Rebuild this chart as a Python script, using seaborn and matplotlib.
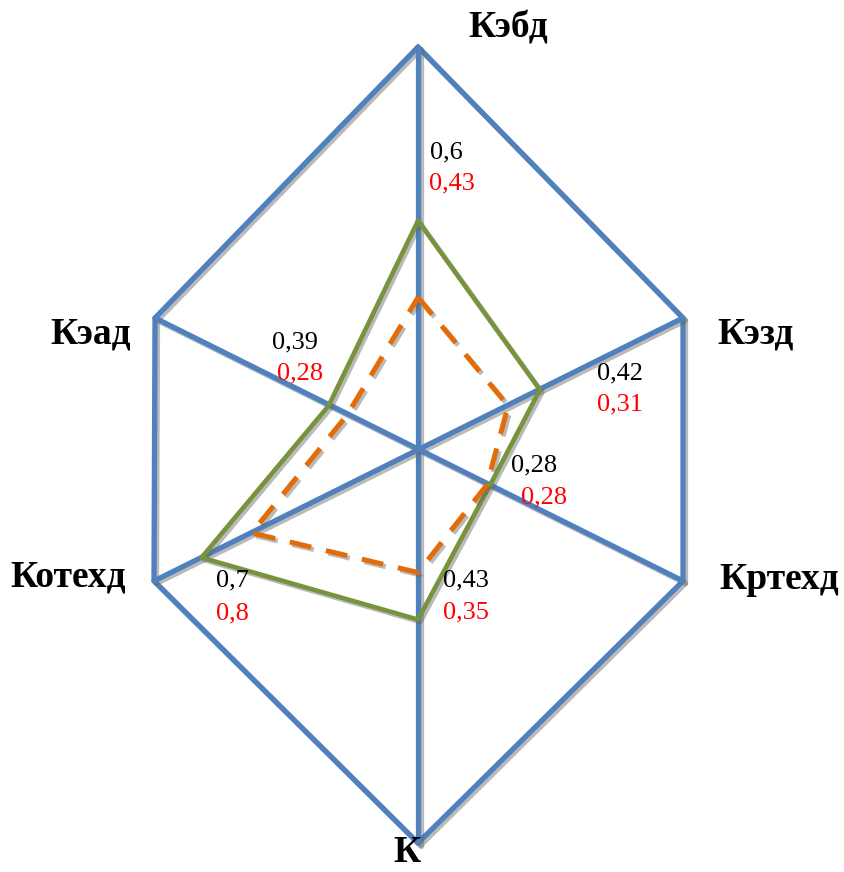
import matplotlib
matplotlib.use("Agg")
import matplotlib.pyplot as plt
import matplotlib.patheffects as pe
import numpy as np
import pandas as pd
import seaborn as sns

# axes of the radar, clockwise from the top
categories = ["Кэбд", "Кэзд", "Кртехд", "К", "Котехд", "Кэад"]

# where the two polygons sit on each axis (share of the outer hexagon)
green_values = [0.57, 0.46, 0.27, 0.43, 0.82, 0.34]
orange_values = [0.38, 0.34, 0.26, 0.31, 0.63, 0.27]

# numbers written next to each axis
green_labels = ["0,6", "0,42", "0,28", "0,43", "0,7", "0,39"]
red_labels = ["0,43", "0,31", "0,28", "0,35", "0,8", "0,28"]

# geometry of the (stretched) hexagon in pixel space
center = np.array([418.0, 451.0])
spoke_ends = np.array([
    [418, 47], [683, 318], [683, 581], [418, 843], [154, 581], [155, 318],
], dtype=float)

BLUE = "#4F81BD"
GREEN = "#77933C"
ORANGE = "#E36C09"


def to_xy(values):
    vals = np.asarray(values, dtype=float)[:, None]
    pts = center + vals * (spoke_ends - center)
    pts = np.vstack([pts, pts[:1]])
    return pd.DataFrame({"x": pts[:, 0], "y": pts[:, 1]})


def shadow():
    return [pe.SimpleLineShadow(offset=(1.8, -1.8), shadow_color="0.4", alpha=0.45), pe.Normal()]


sns.set_style("white")
plt.rcParams["font.family"] = ["Liberation Serif", "DejaVu Serif"]

fig = plt.figure(figsize=(8.44, 8.72), dpi=100)
ax = fig.add_axes([0, 0, 1, 1])

# outer hexagon and spokes
outer = to_xy([1.0] * len(categories))
sns.lineplot(data=outer, x="x", y="y", sort=False, estimator=None, color=BLUE,
             lw=3.8, ax=ax, path_effects=shadow())
for i in range(3):
    j = i + 3
    spoke = pd.DataFrame({"x": [spoke_ends[i, 0], spoke_ends[j, 0]],
                          "y": [spoke_ends[i, 1], spoke_ends[j, 1]]})
    sns.lineplot(data=spoke, x="x", y="y", sort=False, estimator=None, color=BLUE,
                 lw=3.8, ax=ax, path_effects=shadow())

# series polygons
sns.lineplot(data=to_xy(green_values), x="x", y="y", sort=False, estimator=None,
             color=GREEN, lw=3.3, ax=ax, path_effects=shadow())
sns.lineplot(data=to_xy(orange_values), x="x", y="y", sort=False, estimator=None,
             color=ORANGE, lw=3.6, ax=ax, linestyle=(0, (4.4, 3.0)),
             dash_capstyle="butt", path_effects=shadow())

# category names
cat_pos = [(508, 38), (756, 343), (779, 589), (407, 862), (68, 586), (91, 343)]
for name, (x, y) in zip(categories, cat_pos):
    ax.text(x, y, name, ha="center", va="baseline", fontsize=27, fontweight="bold",
            color="black")

# value labels
green_pos = [(430, 158), (597, 379), (511, 471), (443, 586), (216, 586), (272, 348)]
red_pos = [(429, 189), (597, 410), (521, 503), (443, 618), (216, 619), (277, 379)]
for txt, (x, y) in zip(green_labels, green_pos):
    ax.text(x, y, txt, ha="left", va="baseline", fontsize=19, color="black")
for txt, (x, y) in zip(red_labels, red_pos):
    ax.text(x, y, txt, ha="left", va="baseline", fontsize=19, color="#FF0000")

ax.set_xlim(0, 844)
ax.set_ylim(872, 0)
ax.axis("off")

fig.savefig("out.png", dpi=100)
